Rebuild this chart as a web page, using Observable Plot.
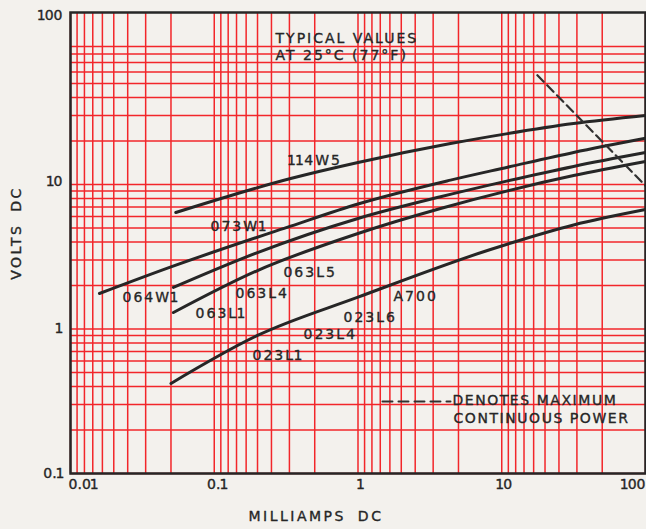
<!DOCTYPE html>
<html>
<head>
<meta charset="utf-8">
<script src="https://cdn.jsdelivr.net/npm/d3@7"></script>
<script src="https://cdn.jsdelivr.net/npm/@observablehq/plot@0.6"></script>
<style>
  html, body { margin: 0; padding: 0; background: #f3f1ed; }
  #chart { width: 646px; height: 529px; }
</style>
</head>
<body>
<div id="chart"></div>
<script>
// ---- Data (milliamps DC vs volts DC) ----
const series = ["114W5", "064W1", "063L4", "063L1", "023L1"];
const mA_114W5 = [0.054, 0.34, 1.0, 4.4, 11, 31.6, 100];
const V_114W5  = [6.4, 11.0, 14.2, 19.2, 22.5, 26.4, 30.0];
const mA_064W1 = [0.0159, 0.05, 0.34, 1.0, 4.4, 11, 31.6, 100];
const V_064W1  = [1.76, 2.69, 5.15, 7.33, 10.72, 13.18, 16.67, 20.9];
const mA_063L4 = [0.052, 0.2, 1.0, 3.75, 11, 31.6, 100];
const V_063L4  = [1.94, 3.38, 5.82, 8.22, 10.59, 13.34, 16.63];
const mA_063L1 = [0.052, 0.2, 1.0, 3.75, 31.6, 100];
const V_063L1  = [1.30, 2.54, 4.58, 6.82, 11.53, 14.42];
const mA_023L1 = [0.05, 0.2, 1.0, 8.35, 31.6, 100];
const V_023L1  = [0.42, 0.902, 1.66, 3.55, 5.25, 6.71];

// maximum continuous power boundary (dashed)
const mA_maxPower = [17.7, 100];
const V_maxPower  = [57, 9.8];

// curve labels: text, left x (mA), centre y (V)
const labelText = ["114W5", "073W1", "064W1", "063L5", "063L4", "063L1", "A700", "023L6", "023L4", "023L1"];
const labelX    = [0.3285, 0.0942, 0.0230, 0.303, 0.1406, 0.0741, 1.766, 0.793, 0.418, 0.1845];
const labelY    = [14.66, 5.12, 1.652, 2.46, 1.76, 1.28, 1.68, 1.20, 0.916, 0.656];

// notes
const headText = ["TYPICAL VALUES", "AT 25°C (77°F)"];
const headX    = [0.267, 0.267];
const headY    = [102.4, 78.1];
const legendText = ["DENOTES MAXIMUM", "CONTINUOUS POWER"];
const legendX    = [4.54, 4.62];
const legendY    = [0.320, 0.240];
const legendDashX = [1.48, 4.40];
const legendDashY = [0.315, 0.315];

// axes
const xTicks = [0.01, 0.1, 1, 10, 100];
const xTickLabels = ["0.01", "0.1", "1", "10", "100"];
const yTicks = [0.1, 1, 10, 100];
const yTickLabels = ["0.1", "1", "10", "100"];
const xTitle = "MILLIAMPS DC";
const yTitle = "VOLTS DC";
const yPaperTop = 155; // log paper continues above the 100 V decade

// ---- Build tables ----
const curveArrays = {
  "114W5": [mA_114W5, V_114W5],
  "064W1": [mA_064W1, V_064W1],
  "063L4": [mA_063L4, V_063L4],
  "063L1": [mA_063L1, V_063L1],
  "023L1": [mA_023L1, V_023L1]
};
const curves = series.flatMap(s => curveArrays[s][0].map((x, i) => ({s, x, y: curveArrays[s][1][i]})));
const maxPower = mA_maxPower.map((x, i) => ({x, y: V_maxPower[i]}));
const labels = labelText.map((t, i) => ({t, x: labelX[i], y: labelY[i]}));
const heads = headText.map((t, i) => ({t, x: headX[i], y: headY[i]}));
const legend = legendText.map((t, i) => ({t, x: legendX[i], y: legendY[i]}));
const legendDash = legendDashX.map((x, i) => ({x, y: legendDashY[i]}));
const xTickData = xTicks.map((v, i) => ({v, t: xTickLabels[i]}));
const yTickData = yTicks.map((v, i) => ({v: v === 100 ? yPaperTop : v, t: yTickLabels[i]}));

// log-paper grid: x paper is printed with mirrored cycles, y paper standard
const xGrid = [];
for (let d = -2; d <= 2; d++) {
  xGrid.push(Math.pow(10, d));
  if (d < 2) for (let k = 2; k <= 9; k++) xGrid.push(Math.pow(10, d + 1) / k);
}
const yGrid = [];
for (let d = -1; d <= 1; d++) for (let k = 1; k <= 9; k++) yGrid.push(k * Math.pow(10, d));

const red = "#f2262a";
const ink = "#262626";
const font = "DejaVu Sans, sans-serif";
const txt = {fontSize: 14, fill: ink, stroke: ink, strokeWidth: 0.35};

const plot = Plot.plot({
  width: 646,
  height: 529,
  marginLeft: 70,
  marginRight: 1,
  marginTop: 12,
  marginBottom: 56,
  style: {background: "transparent", fontFamily: font, color: ink},
  x: {type: "log", domain: [0.01, 100], axis: null},
  y: {type: "log", domain: [0.1, yPaperTop], axis: null},
  marks: [
    Plot.ruleX(xGrid, {stroke: red, strokeWidth: 1.5}),
    Plot.ruleY(yGrid, {stroke: red, strokeWidth: 1.5}),
    Plot.line(curves, {x: "x", y: "y", z: "s", stroke: ink, strokeWidth: 3, curve: "monotone-x"}),
    Plot.line(maxPower, {x: "x", y: "y", stroke: "#303030", strokeWidth: 2.2, strokeDasharray: "9,5"}),
    Plot.line(legendDash, {x: "x", y: "y", stroke: "#303030", strokeWidth: 2, strokeDasharray: "10,6"}),
    Plot.text(labels, {x: "x", y: "y", text: "t", textAnchor: "start", ...txt}),
    Plot.text(heads, {x: "x", y: "y", text: "t", textAnchor: "start", ...txt}),
    Plot.text(legend, {x: "x", y: "y", text: "t", textAnchor: "start", ...txt}),
    Plot.frame({stroke: ink, strokeWidth: 2.5}),
    Plot.text(yTickData.slice(0, 2), {y: "v", text: "t", frameAnchor: "left", textAnchor: "end", dx: -7, ...txt}),
    Plot.text(yTickData.slice(2, 3), {y: "v", text: "t", frameAnchor: "left", textAnchor: "end", dx: -7, dy: -3, ...txt}),
    Plot.text(yTickData.slice(3), {y: "v", text: "t", frameAnchor: "left", textAnchor: "end", dx: -7, dy: 3, ...txt}),
    Plot.text(xTickData.slice(0, 1), {x: "v", text: "t", frameAnchor: "bottom", textAnchor: "start", dx: -2, dy: 15, ...txt}),
    Plot.text(xTickData.slice(1, 4), {x: "v", text: "t", frameAnchor: "bottom", textAnchor: "middle", dx: 3, dy: 15, ...txt}),
    Plot.text(xTickData.slice(4), {x: "v", text: "t", frameAnchor: "bottom", textAnchor: "end", dx: 1, dy: 15, ...txt}),
    Plot.text([yTitle], {text: d => d, frameAnchor: "left", textAnchor: "middle", rotate: -90, dx: -54, dy: -10, ...txt}),
    Plot.text([xTitle], {text: d => d, frameAnchor: "bottom-left", textAnchor: "start", dx: 178, dy: 47, ...txt})
  ]
});

// lettering: spacing, and the stencil-style narrow "1"
function styleTexts(set, spacing, wordSpacing, s) {
  d3.select(plot).selectAll("text")
    .filter(function() { return set.has(this.textContent); })
    .style("letter-spacing", spacing + "px")
    .style("word-spacing", wordSpacing + "px")
    .each(function() {
      const t = this.textContent;
      if (!t.includes("1") || !s) return;
      const el = d3.select(this);
      el.text(null);
      for (const ch of t) {
        const ts = el.append("tspan").text(ch);
        if (ch === "1") ts.attr("dx", -s).style("letter-spacing", (spacing - s) + "px");
      }
    });
}
styleTexts(new Set(labelText), 2, 0, 1.5);
styleTexts(new Set(headText), 2, 0, 0);
styleTexts(new Set(legendText), 1.55, 0, 0);
styleTexts(new Set([xTitle, yTitle]), 2.5, 5, 0);
styleTexts(new Set([...xTickLabels, ...yTickLabels]), 0, 0, 1);
document.getElementById("chart").appendChild(plot);
</script>
</body>
</html>
